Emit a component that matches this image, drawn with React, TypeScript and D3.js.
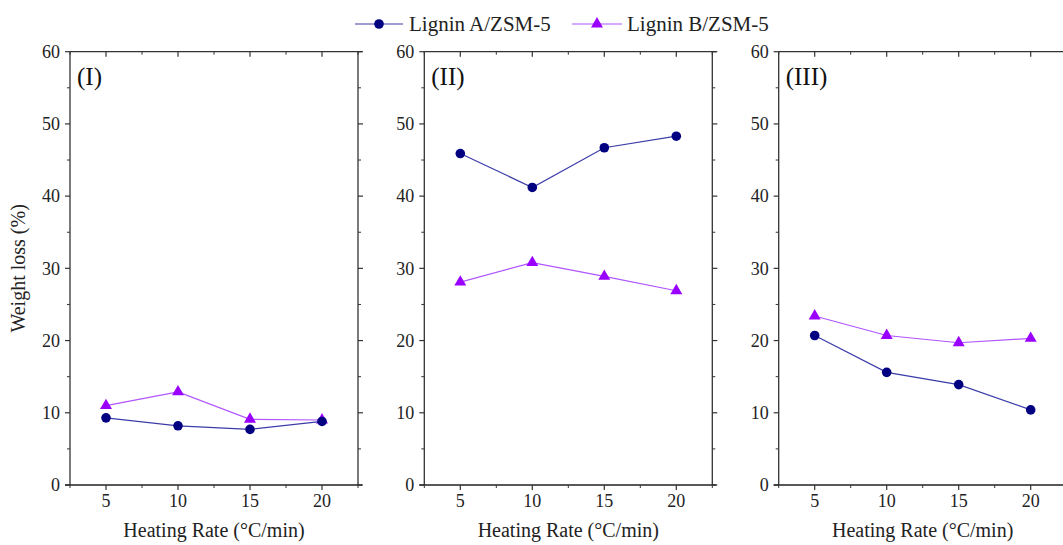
import React from "react";
import * as d3 from "d3";

const heatingRates = [5, 10, 15, 20];
const panelLabels = ["(I)", "(II)", "(III)"];
const ligninA_I = [9.3, 8.2, 7.7, 8.8];
const ligninB_I = [11.0, 12.9, 9.1, 9.0];
const ligninA_II = [45.9, 41.2, 46.7, 48.3];
const ligninB_II = [28.1, 30.8, 28.9, 26.9];
const ligninA_III = [20.7, 15.6, 13.9, 10.4];
const ligninB_III = [23.4, 20.7, 19.7, 20.3];
const yTicks = [0, 10, 20, 30, 40, 50, 60];
const seriesNames = ["Lignin A/ZSM-5", "Lignin B/ZSM-5"];

const W = 1063;
const H = 545;
const FONT = "Liberation Serif, DejaVu Serif, serif";
const colA = { marker: "#000080", line: "#3c3ca8" };
const colB = { marker: "#9900ff", line: "#b055ff" };

const panelLefts = [70, 424.3, 778.7];
const plotW = 288;
const top = 51.7;
const bottom = 485;

function Panel({ left, label, a, b, showYTitle }: any) {
  const x = d3.scaleLinear().domain([2.5, 22.5]).range([left, left + plotW]);
  const y = d3.scaleLinear().domain([0, 60]).range([bottom, top]);
  const line = d3
    .line<number>()
    .x((_, i) => x(heatingRates[i]))
    .y((d) => y(d));
  const minorX = d3.range(2.5, 22.6, 2.5).filter((v) => v % 5 !== 0);
  const majorX = heatingRates;
  const minorY = d3.range(5, 60, 10);
  const tri = d3.symbol().type(d3.symbolTriangle).size(62)();
  const right = left + plotW;
  return (
    <g>
      <line x1={left} x2={right + 4} y1={top} y2={top} stroke="#333" strokeWidth={1.3} />
      <line x1={right} x2={right} y1={top} y2={bottom} stroke="#333" strokeWidth={1.3} />
      <line x1={left} x2={left} y1={top} y2={bottom} stroke="#333" strokeWidth={1.3} />
      <line x1={left - 5} x2={right + 4} y1={bottom} y2={bottom} stroke="#222" strokeWidth={1.3} />
      {yTicks.map((t) => (
        <g key={"y" + t}>
          <line x1={left - 5} x2={left} y1={y(t)} y2={y(t)} stroke="#333" strokeWidth={1.2} />
          <line x1={right} x2={right + 5} y1={y(t)} y2={y(t)} stroke="#333" strokeWidth={1.2} />
          <text x={left - 10} y={y(t)} dy="0.35em" textAnchor="end" style={{ fontFamily: FONT }} fontSize={18} fill="#222">
            {t}
          </text>
        </g>
      ))}
      {minorY.map((t) => (
        <g key={"my" + t}>
          <line x1={left - 3} x2={left} y1={y(t)} y2={y(t)} stroke="#333" strokeWidth={1} />
          <line x1={right} x2={right + 3} y1={y(t)} y2={y(t)} stroke="#333" strokeWidth={1} />
        </g>
      ))}
      {majorX.map((t) => (
        <g key={"x" + t}>
          <line x1={x(t)} x2={x(t)} y1={bottom} y2={bottom + 5} stroke="#333" strokeWidth={1.2} />
          <line x1={x(t)} x2={x(t)} y1={top} y2={top + 5} stroke="#333" strokeWidth={1.2} />
          <text x={x(t)} y={bottom + 22} textAnchor="middle" style={{ fontFamily: FONT }} fontSize={18} fill="#222">
            {t}
          </text>
        </g>
      ))}
      {minorX.map((t) => (
        <g key={"mx" + t}>
          <line x1={x(t)} x2={x(t)} y1={bottom} y2={bottom + 3} stroke="#333" strokeWidth={1} />
          <line x1={x(t)} x2={x(t)} y1={top} y2={top + 3} stroke="#333" strokeWidth={1} />
        </g>
      ))}
      <text x={left + plotW / 2} y={bottom + 52} textAnchor="middle" style={{ fontFamily: FONT }} fontSize={20} fill="#222">
        Heating Rate (°C/min)
      </text>
      <text x={left + 7} y={top + 33} style={{ fontFamily: FONT }} fontSize={25} fill="#111">
        {label}
      </text>
      {showYTitle && (
        <text
          transform={`translate(25, ${(top + bottom) / 2}) rotate(-90)`}
          textAnchor="middle"
          style={{ fontFamily: FONT }}
          fontSize={20}
          fill="#222"
        >
          Weight loss (%)
        </text>
      )}
      <path d={line(b) || ""} fill="none" stroke={colB.line} strokeWidth={1.2} />
      {b.map((v: number, i: number) => (
        <path key={"b" + i} d={tri || ""} transform={`translate(${x(heatingRates[i])},${y(v)})`} fill={colB.marker} />
      ))}
      <path d={line(a) || ""} fill="none" stroke={colA.line} strokeWidth={1.2} />
      {a.map((v: number, i: number) => (
        <circle key={"a" + i} cx={x(heatingRates[i])} cy={y(v)} r={4.8} fill={colA.marker} />
      ))}
    </g>
  );
}

export default function App() {
  const tri = d3.symbol().type(d3.symbolTriangle).size(62)();
  const data = [
    [ligninA_I, ligninB_I],
    [ligninA_II, ligninB_II],
    [ligninA_III, ligninB_III],
  ];
  const legY = 24;
  return (
    <svg width={W} height={H} style={{ position: "absolute", left: 0, top: 0, background: "#fff" }}>
      <rect width={W} height={H} fill="#fff" />
      {panelLefts.map((l, i) => (
        <Panel key={i} left={l} label={panelLabels[i]} a={data[i][0]} b={data[i][1]} showYTitle={i === 0} />
      ))}
      <g>
        <line x1={355} x2={403} y1={legY} y2={legY} stroke={colA.line} strokeWidth={1.2} />
        <circle cx={379} cy={legY} r={4.8} fill={colA.marker} />
        <text x={409} y={legY} dy="0.35em" style={{ fontFamily: FONT }} fontSize={21} fill="#222">
          {seriesNames[0]}
        </text>
        <line x1={572} x2={622} y1={legY} y2={legY} stroke={colB.line} strokeWidth={1.2} />
        <path d={tri || ""} transform={`translate(597,${legY})`} fill={colB.marker} />
        <text x={627} y={legY} dy="0.35em" style={{ fontFamily: FONT }} fontSize={21} fill="#222">
          {seriesNames[1]}
        </text>
      </g>
    </svg>
  );
}
